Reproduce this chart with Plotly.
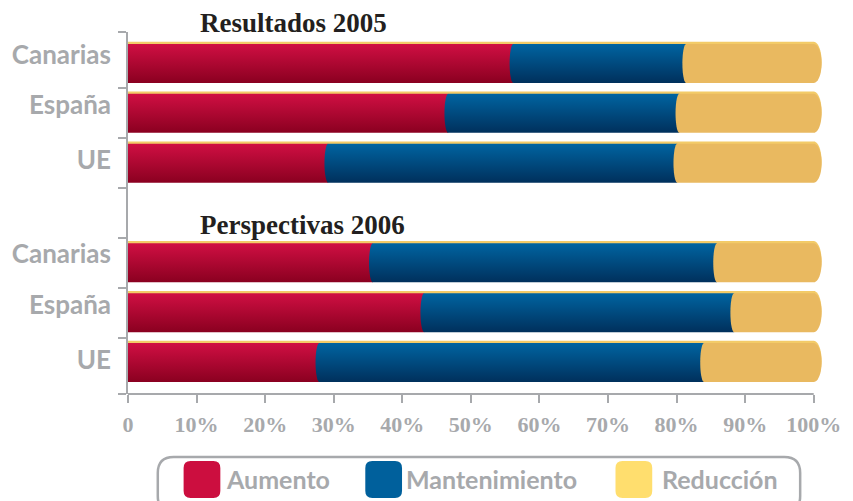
import numpy as np
import plotly.graph_objects as go

# ---------------- data ----------------
group_titles = ["Resultados 2005", "Perspectivas 2006"]
regions = ["Canarias", "España", "UE"]
series_names = ["Aumento", "Mantenimiento", "Reducción"]

aumento_2005 = [56.2, 46.7, 29.2]
mantenimiento_2005 = [25.2, 33.7, 50.9]
reduccion_2005 = [18.6, 19.6, 19.9]

aumento_2006 = [35.7, 43.2, 27.9]
mantenimiento_2006 = [50.2, 45.2, 56.1]
reduccion_2006 = [14.1, 11.6, 16.0]

x_tick_values = [0, 10, 20, 30, 40, 50, 60, 70, 80, 90, 100]
x_tick_labels = ["0", "10%", "20%", "30%", "40%", "50%", "60%", "70%", "80%", "90%", "100%"]

# ---------------- style ----------------
GRAY = "#a7a9ac"
TITLE = "#231f20"
RED_SCALE = [[0, "#8a0020"], [1, "#d00f43"]]
BLUE_SCALE = [[0, "#00305c"], [1, "#0064a1"]]
BAR_YELLOW = "#e9b960"
TOP_LINE = "#f3cb68"
LEGEND_COLORS = ["#cc0e3f", "#00609c", "#ffde6e"]

W, H = 853, 501
ML, MR, MT, MB = 126, 26, 32, 107
PW, PH = W - ML - MR, H - MT - MB
Y_RANGE = [-0.632, 6.632]
X_RANGE = [0, 101.5]

HALF_H = 0.391       # half bar height (row units)
LEFT_CAP = 0.55      # left elliptic cap (x units, %)
RIGHT_CAP = 1.15     # right rounded end (x units, %)
TOP_OFF = 0.045      # thin top highlight
LABEL_SHIFT = [0.17, 0.16, 0.06]   # category label placement relative to the bar row

# rows (top to bottom); gap row at position 3
row_pos = {("Resultados 2005", 0): 6, ("Resultados 2005", 1): 5, ("Resultados 2005", 2): 4,
           ("Perspectivas 2006", 0): 2, ("Perspectivas 2006", 1): 1, ("Perspectivas 2006", 2): 0}
data = {
    "Resultados 2005": [aumento_2005, mantenimiento_2005, reduccion_2005],
    "Perspectivas 2006": [aumento_2006, mantenimiento_2006, reduccion_2006],
}


def segment(a, b, yc, h, lcap, rcap):
    t = np.linspace(-np.pi / 2, np.pi / 2, 24)
    xs = list(a - lcap * np.cos(t))
    ys = list(yc + h * np.sin(t))
    if rcap > 0:
        t2 = np.linspace(np.pi / 2, -np.pi / 2, 24)
        xs += list(b + rcap * np.cos(t2))
        ys += list(yc + h * np.sin(t2))
    else:
        xs += [b, b]
        ys += [yc + h, yc - h]
    xs.append(xs[0])
    ys.append(ys[0])
    return xs, ys


fig = go.Figure()

for g in group_titles:
    vals = data[g]
    for i, reg in enumerate(regions):
        yc = row_pos[(g, i)]
        total = sum(v[i] for v in vals)
        # thin top highlight (back of the bar)
        xs, ys = segment(0, total, yc + TOP_OFF, HALF_H, 0, RIGHT_CAP)
        fig.add_trace(go.Scatter(x=xs, y=ys, fill="toself", mode="none", fillcolor=TOP_LINE,
                                 hoverinfo="skip", showlegend=False, xaxis="x", yaxis="y"))

for g in group_titles:
    vals = data[g]
    for i, reg in enumerate(regions):
        yc = row_pos[(g, i)]
        start = 0.0
        for k, name in enumerate(series_names):
            v = vals[k][i]
            end = start + v
            last = k == len(series_names) - 1
            xs, ys = segment(start, end, yc, HALF_H, 0.3 if k == 0 else LEFT_CAP,
                             RIGHT_CAP if last else 0)
            kw = dict(x=xs, y=ys, fill="toself", mode="none", name=name,
                      hovertemplate=f"{g}<br>{reg}<br>{name}: {v}%<extra></extra>",
                      showlegend=False, xaxis="x", yaxis="y2")
            if k == 0:
                kw["fillgradient"] = dict(type="vertical", colorscale=RED_SCALE,
                                          start=yc - HALF_H, stop=yc + HALF_H)
            elif k == 1:
                kw["fillgradient"] = dict(type="vertical", colorscale=BLUE_SCALE,
                                          start=yc - HALF_H, stop=yc + HALF_H)
            else:
                kw["fillcolor"] = BAR_YELLOW
            fig.add_trace(go.Scatter(**kw))
            start = end

# ---------------- layout ----------------
label_vals = [row_pos[(g, i)] + LABEL_SHIFT[i] for g in group_titles for i in range(len(regions))]
label_text = [regions[i] for g in group_titles for i in range(len(regions))]
tick_marks = [Y_RANGE[0], 0.5, 1.5, 2.5, 3.5, 4.5, 5.5, Y_RANGE[1]]

fig.update_layout(
    width=W, height=H,
    margin=dict(l=ML, r=MR, t=MT, b=MB, pad=0),
    paper_bgcolor="white", plot_bgcolor="white",
    showlegend=False,
    xaxis=dict(range=X_RANGE, tickvals=x_tick_values, ticktext=x_tick_labels,
               ticks="outside", ticklen=8, tickwidth=2, tickcolor=GRAY,
               showline=False, showgrid=False, zeroline=False,
               tickfont=dict(family="Liberation Serif", size=22, color=GRAY, weight="bold"),
               ticklabelstandoff=3, fixedrange=True),
    yaxis=dict(range=Y_RANGE, tickvals=tick_marks, ticks="outside", ticklen=8, tickwidth=2,
               tickcolor=GRAY, showticklabels=False, showline=True, linecolor=GRAY,
               linewidth=2, showgrid=False, zeroline=False, fixedrange=True),
    yaxis2=dict(range=Y_RANGE, overlaying="y", side="left", anchor="x",
                tickvals=label_vals, ticktext=label_text, ticks="",
                showline=False, showgrid=False, zeroline=False,
                tickfont=dict(family="Lato", size=26, color=GRAY, weight="bold"),
                ticklabelstandoff=16, fixedrange=True),
)

# x axis baseline from 0 to 100 %
fig.add_shape(type="line", xref="x", yref="paper", x0=0, x1=100, y0=0, y1=0,
              line=dict(color=GRAY, width=2), layer="above")


def px2paper(px, py):
    return (px - ML) / PW, (MT + PH - py) / PH


def rounded_rect(x0, y0, x1, y1, r):
    def P(x, y):
        a, b = px2paper(x, y)
        return f"{a:.5f},{b:.5f}"
    return (f"M {P(x0 + r, y0)} L {P(x1 - r, y0)} Q {P(x1, y0)} {P(x1, y0 + r)} "
            f"L {P(x1, y1 - r)} Q {P(x1, y1)} {P(x1 - r, y1)} "
            f"L {P(x0 + r, y1)} Q {P(x0, y1)} {P(x0, y1 - r)} "
            f"L {P(x0, y0 + r)} Q {P(x0, y0)} {P(x0 + r, y0)} Z")


# group titles
title_pos = {"Resultados 2005": 23.5, "Perspectivas 2006": 225}
for g in group_titles:
    xp, yp = px2paper(197, title_pos[g])
    fig.add_annotation(x=xp, y=yp, xref="paper", yref="paper", text=g, showarrow=False,
                       xanchor="left", yanchor="middle",
                       font=dict(family="Liberation Serif", size=27, color=TITLE, weight="bold"))

# legend (custom rounded box)
fig.add_shape(type="path", xref="paper", yref="paper",
              path=rounded_rect(156, 457, 803, 512, 16),
              line=dict(color=GRAY, width=2.5), fillcolor="rgba(0,0,0,0)")
sw_x = [182, 365, 617]
tx_x = [223, 404, 662]
for k, name in enumerate(series_names):
    fig.add_shape(type="path", xref="paper", yref="paper",
                  path=rounded_rect(sw_x[k], 461, sw_x[k] + 37, 498, 7),
                  line=dict(width=0), fillcolor=LEGEND_COLORS[k])
    xp, yp = px2paper(tx_x[k], 479)
    fig.add_annotation(x=xp, y=yp, xref="paper", yref="paper", text=name, showarrow=False,
                       xanchor="left", yanchor="middle",
                       font=dict(family="Lato", size=25, color=GRAY, weight="bold"))

fig.write_html("out.html")
